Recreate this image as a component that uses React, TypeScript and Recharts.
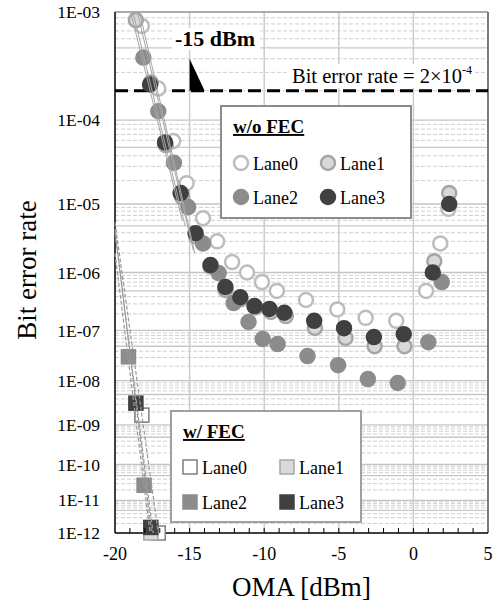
import React from "react";
import { ScatterChart, Scatter, XAxis, YAxis, ReferenceLine } from "recharts";

const FONT = "Liberation Serif";

// OMA [dBm] and bit error rate per lane (w/o FEC)
const lane0X = [-18.2, -17.1, -16.1, -15.2, -14.1, -13.15, -12.15, -11.15, -10.15, -9.15, -7.2, -5.1, -3.2, -1.15, 0.85, 1.8, 2.35];
const lane0Ber = [7.7e-4, 2.1e-4, 5.9e-5, 1.86e-5, 6.4e-6, 3.0e-6, 1.46e-6, 1.0e-6, 7.0e-7, 5.0e-7, 3.5e-7, 2.4e-7, 1.7e-7, 1.5e-7, 5.0e-7, 2.8e-6, 8.6e-6];
const lane1X = [-18.6, -17.6, -16.6, -15.5, -14.55, -13.6, -12.6, -11.6, -10.6, -9.55, -8.55, -6.6, -4.55, -2.6, -0.6, 1.4, 2.4];
const lane1Ber = [8.6e-4, 2.4e-4, 5.3e-5, 1.23e-5, 3.5e-6, 1.25e-6, 5.2e-7, 3.6e-7, 2.6e-7, 2.16e-7, 1.83e-7, 1.11e-7, 7.2e-8, 5.0e-8, 5.0e-8, 1.5e-6, 1.39e-5];
const lane2X = [-18.1, -17.1, -16.05, -15.1, -14.1, -13.05, -12.05, -11.05, -10.1, -9.1, -7.1, -5.05, -3.05, -1.05, 1.0, 1.9];
const lane2Ber = [4.1e-4, 1.24e-4, 3.3e-5, 9.1e-6, 2.8e-6, 9.8e-7, 3.1e-7, 1.43e-7, 6.9e-8, 5.5e-8, 3.2e-8, 2.1e-8, 1.08e-8, 8.9e-9, 6.0e-8, 7.0e-7];
const lane3X = [-17.65, -16.65, -15.6, -14.6, -13.6, -12.6, -11.6, -10.65, -9.65, -8.65, -6.65, -4.65, -2.65, -0.65, 1.3, 2.4];
const lane3Ber = [2.3e-4, 5.7e-5, 1.39e-5, 3.95e-6, 1.31e-6, 5.8e-7, 3.9e-7, 2.75e-7, 2.45e-7, 2.1e-7, 1.5e-7, 1.1e-7, 7.5e-8, 8.5e-8, 1.0e-6, 1.0e-5];

// w/ FEC
const fec0X = [-18.2, -17.1];
const fec0Ber = [1.7e-9, 1e-12];
const fec1X = [-17.6];
const fec1Ber = [1e-12];
const fec2X = [-19.1, -18.05];
const fec2Ber = [3.1e-8, 2.7e-11];
const fec3X = [-18.6, -17.6];
const fec3Ber = [3.2e-9, 1.5e-12];

// trend lines (end points)
const fitX = [[-18.95, -15.5], [-18.8, -15.3], [-18.5, -14.75], [-18.35, -14.65]];
const fitBer = [[1e-3, 6e-6], [1e-3, 5e-6], [1e-3, 2.2e-6], [1e-3, 2e-6]];
const fecFitX = [[-20, -17.1], [-20, -17.45], [-20, -17.65], [-20, -17.55]];
const fecFitBer = [[5.6e-6, 1e-12], [4e-6, 1e-12], [2e-6, 1e-12], [4.5e-6, 1e-12]];

const limitBer = 2e-4;
const limitOma = -15;

const yExp = [3, 4, 5, 6, 7, 8, 9, 10, 11, 12];
const xTicks = [-20, -19, -18, -17, -16, -15, -14, -13, -12, -11, -10, -9, -8, -7, -6, -5, -4, -3, -2, -1, 0, 1, 2, 3, 4, 5];
const xMajor = [-20, -15, -10, -5, 0, 5];

// y axis is log(-log(BER))
const tf = (ber: number) => Math.log10(-Math.log10(ber));
const pts = (xs: number[], bers: number[]) => xs.map((x, i) => ({ x, y: tf(bers[i]) }));

const yTicks = yExp.map((n) => Math.log10(n));
const minorGrid: { v: number; solid: boolean }[] = [];
yExp.slice(1).forEach((e) => {
  for (let k = 2; k <= 9; k++) minorGrid.push({ v: tf(k * Math.pow(10, -e)), solid: k === 5 });
});

const COL = {
  l0: { fill: "#ffffff", stroke: "#bdbdbd" },
  l1: { fill: "#d9d9d9", stroke: "#a6a6a6" },
  l2: { fill: "#8c8c8c", stroke: "#8c8c8c" },
  l3: { fill: "#404040", stroke: "#404040" },
};

const circle = (c: { fill: string; stroke: string }) => (p: any) =>
  <circle cx={p.cx} cy={p.cy} r={7} fill={c.fill} stroke={c.stroke} strokeWidth={2.5} />;
const square = (c: { fill: string; stroke: string }, sw = 1.5) => (p: any) =>
  <rect x={p.cx - 7} y={p.cy - 7} width={14} height={14} fill={c.fill} stroke={c.stroke} strokeWidth={sw} />;
const none = () => <g />;

const txt = { fontFamily: FONT };

function XTick({ x, y, payload }: any) {
  const v = payload.value;
  const edge = v === -20 || v === 5;
  return (
    <g>
      {!edge && <line x1={x} x2={x} y1={y} y2={y - 5} stroke="#000" strokeWidth={1} />}
      {xMajor.includes(v) && (
        <text x={x} y={y + 27} textAnchor="middle" style={txt} fontSize={18} fill="#000">
          {v}
        </text>
      )}
    </g>
  );
}

function YTick({ x, y, payload }: any) {
  const n = Math.round(Math.pow(10, payload.value));
  return (
    <text x={x - 15} y={y} dy="0.35em" textAnchor="end" style={txt} fontSize={17.5} fill="#000">
      {"1E-" + String(n).padStart(2, "0")}
    </text>
  );
}

function LegendItem({ x, y, label, kind, c }: any) {
  return (
    <g>
      {kind === "c" ? (
        <circle cx={x} cy={y} r={7} fill={c.fill} stroke={c.stroke} strokeWidth={2.5} />
      ) : (
        <rect x={x - 7} y={y - 7} width={14} height={14} fill={c.fill} stroke={c.stroke} strokeWidth={1.5} />
      )}
      <text x={x + 12} y={y + 6.5} style={txt} fontSize={18} fill="#000">
        {label}
      </text>
    </g>
  );
}

export default function App() {
  return (
    <div style={{ position: "absolute", left: 0, top: 0, width: 495, height: 606, background: "#fff", fontFamily: FONT }}>
      <ScatterChart width={495} height={606} margin={{ top: 12, right: 7, bottom: 0, left: 0 }}>
        <XAxis
          type="number"
          dataKey="x"
          domain={[-20, 5]}
          ticks={xTicks}
          interval={0}
          height={73}
          tickSize={0}
          tickMargin={0}
          tick={<XTick />}
          axisLine={{ stroke: "#000", strokeWidth: 1.5 }}
        />
        <YAxis
          type="number"
          dataKey="y"
          domain={[yTicks[0], yTicks[yTicks.length - 1]]}
          reversed
          ticks={yTicks}
          interval={0}
          width={115}
          tickSize={0}
          tickMargin={0}
          tick={<YTick />}
          axisLine={{ stroke: "#000", strokeWidth: 1.5 }}
        />
        {minorGrid.map((g, i) => (
          <ReferenceLine
            key={"m" + i}
            y={g.v}
            stroke={g.solid ? "#c8c8c8" : "#cfcfcf"}
            strokeWidth={g.solid ? 1.3 : 1}
            strokeDasharray={g.solid ? undefined : "4 2"}
          />
        ))}
        {yTicks.slice(1, -1).map((v) => (
          <ReferenceLine key={"y" + v} y={v} stroke="#c4c4c4" strokeWidth={1.3} />
        ))}
        {xMajor.slice(1, -1).map((v) => (
          <ReferenceLine key={"x" + v} x={v} stroke="#cccccc" strokeWidth={1.5} />
        ))}
        <ReferenceLine y={yTicks[0]} stroke="#909090" strokeWidth={1.5} />
        <ReferenceLine x={5} stroke="#7a7a7a" strokeWidth={2} />

        <Scatter data={pts(lane0X, lane0Ber)} shape={circle(COL.l0)} isAnimationActive={false} />
        <Scatter data={pts(lane1X, lane1Ber)} shape={circle(COL.l1)} isAnimationActive={false} />
        <Scatter data={pts(lane2X, lane2Ber)} shape={circle(COL.l2)} isAnimationActive={false} />
        <Scatter data={pts(lane3X, lane3Ber)} shape={circle(COL.l3)} isAnimationActive={false} />

        <Scatter data={pts(fec0X, fec0Ber)} shape={square({ fill: "#fff", stroke: "#7f7f7f" })} isAnimationActive={false} />
        <Scatter data={pts(fec1X, fec1Ber)} shape={square(COL.l1)} isAnimationActive={false} />
        <Scatter data={pts(fec2X, fec2Ber)} shape={square(COL.l2)} isAnimationActive={false} />
        <Scatter data={pts(fec3X, fec3Ber)} shape={square(COL.l3)} isAnimationActive={false} />

        {fitX.map((xs, i) => (
          <Scatter
            key={"f" + i}
            data={pts(xs, fitBer[i])}
            line={{ stroke: "#a6a6a6", strokeWidth: 1 }}
            shape={none}
            isAnimationActive={false}
          />
        ))}
        {fecFitX.map((xs, i) => (
          <Scatter
            key={"d" + i}
            data={pts(xs, fecFitBer[i])}
            line={{ stroke: "#999999", strokeWidth: 1.2, strokeDasharray: "4 2" }}
            shape={none}
            isAnimationActive={false}
          />
        ))}

        <ReferenceLine y={tf(limitBer)} stroke="#000" strokeWidth={3} strokeDasharray="13 6" />
        <Scatter
          data={[{ x: limitOma, y: tf(limitBer) }]}
          shape={(p: any) => (
            <polygon points={`${p.cx},${p.cy - 32} ${p.cx},${p.cy} ${p.cx + 15},${p.cy}`} fill="#000" />
          )}
          isAnimationActive={false}
        />
      </ScatterChart>

      <svg width={495} height={606} style={{ position: "absolute", left: 0, top: 0, pointerEvents: "none" }}>
        <text x={36} y={270} transform="rotate(-90 36 270)" textAnchor="middle" style={txt} fontSize={27} fill="#000">
          Bit error rate
        </text>
        <text x={301.5} y={596} textAnchor="middle" style={txt} fontSize={27} fill="#000">
          OMA [dBm]
        </text>

        <rect x={172} y={28} width={88} height={22} fill="#fff" />
        <text x={175} y={46} style={txt} fontSize={22} fontWeight="bold" fill="#000">
          -15 dBm
        </text>

        <rect x={288} y={64} width={186} height={24} fill="#fff" />
        <text x={292} y={83} style={txt} fontSize={20.5} fill="#000">
          <tspan>Bit error rate = 2×10</tspan>
          <tspan fontSize={12} dy={-9}>-4</tspan>
        </text>

        <rect x={221} y={106} width={190} height={112} fill="#fff" stroke="#8c8c8c" strokeWidth={2} />
        <text x={233} y={133} style={txt} fontSize={19} fontWeight="bold" textDecoration="underline" fill="#000">
          w/o FEC
        </text>
        <LegendItem x={241} y={163} label="Lane0" kind="c" c={COL.l0} />
        <LegendItem x={328} y={163} label="Lane1" kind="c" c={COL.l1} />
        <LegendItem x={241} y={197} label="Lane2" kind="c" c={COL.l2} />
        <LegendItem x={328} y={197} label="Lane3" kind="c" c={COL.l3} />

        <rect x={171} y={411} width={190} height={111} fill="#fff" stroke="#a0a0a0" strokeWidth={2} />
        <text x={183} y={438} style={txt} fontSize={19} fontWeight="bold" textDecoration="underline" fill="#000">
          w/ FEC
        </text>
        <LegendItem x={190} y={467} label="Lane0" kind="s" c={{ fill: "#fff", stroke: "#7f7f7f" }} />
        <LegendItem x={287} y={467} label="Lane1" kind="s" c={COL.l1} />
        <LegendItem x={190} y={502} label="Lane2" kind="s" c={COL.l2} />
        <LegendItem x={287} y={502} label="Lane3" kind="s" c={COL.l3} />
      </svg>
    </div>
  );
}
